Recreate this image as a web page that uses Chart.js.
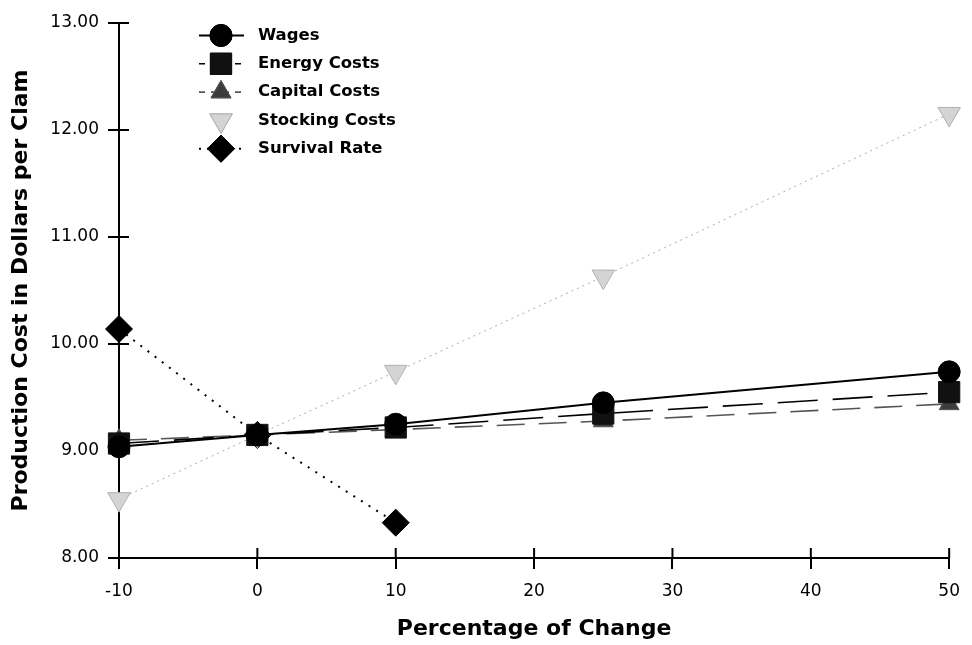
<!DOCTYPE html>
<html><head><meta charset="utf-8">
<script src="https://cdn.jsdelivr.net/npm/chart.js@4.4.1/dist/chart.umd.min.js"></script>
<style>html,body{margin:0;padding:0;background:#fff;}#wrap{width:972px;height:645px;}</style>
</head><body><div id="wrap"><canvas id="c" width="972" height="645"></canvas></div>
<script>
// ---- data ----
const pctChange     = [-10, 0, 10, 25, 50];
const survivalPct   = [-10, 0, 10];
const wages         = [9.04, 9.15, 9.25, 9.45, 9.74];
const energyCosts   = [9.07, 9.15, 9.22, 9.35, 9.55];
const capitalCosts  = [9.10, 9.15, 9.20, 9.28, 9.44];
const stockingCosts = [8.55, 9.15, 9.74, 10.63, 12.15];
const survivalRate  = [10.14, 9.15, 8.33];
const seriesNames   = ['Wages', 'Energy Costs', 'Capital Costs', 'Stocking Costs', 'Survival Rate'];
const xTickValues   = [-10, 0, 10, 20, 30, 40, 50];
const yTickValues   = [8, 9, 10, 11, 12, 13];
const xTitle = 'Percentage of Change';
const yTitle = 'Production Cost in Dollars per Clam';

const FONT = "'DejaVu Sans', sans-serif";
const pts = (xs, ys) => xs.map((x, i) => ({x: x, y: ys[i]}));

const styles = [
  {borderColor:'#000', borderWidth:2,   borderDash:[],      pointStyle:'circle',   pointRadius:11,   bg:'#000', pb:'#000', rot:0},
  {borderColor:'#000', borderWidth:1.6, borderDash:[40,15], pointStyle:'rect',     pointRadius:15,   bg:'#111', pb:'#111', rot:0},
  {borderColor:'#555', borderWidth:1.6, borderDash:[28,14], pointStyle:'triangle', pointRadius:11.5, bg:'#3c3c3c', pb:'#555', rot:0},
  {borderColor:'#aaa', borderWidth:1,   borderDash:[2,4],   pointStyle:'triangle', pointRadius:13,   bg:'#d4d4d4', pb:'#b0b0b0', rot:180},
  {borderColor:'#000', borderWidth:2,   borderDash:[2,7],   pointStyle:'rectRot',  pointRadius:13.5, bg:'#000', pb:'#000', rot:0}
];
const seriesData = [
  pts(pctChange, wages), pts(pctChange, energyCosts), pts(pctChange, capitalCosts),
  pts(pctChange, stockingCosts), pts(survivalPct, survivalRate)
];

const datasets = seriesNames.map((name, i) => {
  const s = styles[i];
  return {
    label: name, data: seriesData[i],
    borderColor: s.borderColor, borderWidth: s.borderWidth, borderDash: s.borderDash,
    backgroundColor: s.bg, pointBackgroundColor: s.bg, pointBorderColor: s.pb, pointBorderWidth: 1,
    pointStyle: s.pointStyle, pointRadius: s.pointRadius, pointHoverRadius: s.pointRadius,
    pointRotation: s.rot, tension: 0, fill: false, clip: false, order: i
  };
});

function drawShape(ctx, style, r, rot, x, y) {
  if (Chart.helpers && Chart.helpers.drawPoint) {
    Chart.helpers.drawPoint(ctx, {pointStyle: style, radius: r, rotation: rot, borderWidth: 1}, x, y);
    ctx.fill(); ctx.stroke();
  }
}

const legendPlugin = {
  id: 'inlineLegend',
  afterDraw(chart) {
    const ctx = chart.ctx, ca = chart.chartArea;
    ctx.save();
    chart.data.datasets.forEach((ds, i) => {
      const s = styles[i];
      const y = ca.top + 12.5 + 28.3 * i;
      const x0 = ca.left + 80, x1 = ca.left + 125, xm = ca.left + 102;
      ctx.setLineDash(s.borderDash.length ? s.borderDash.map(v => Math.min(v, 6)) : []);
      ctx.strokeStyle = s.borderColor; ctx.lineWidth = s.borderWidth;
      if (i !== 3) { ctx.beginPath(); ctx.moveTo(x0, y); ctx.lineTo(x1, y); ctx.stroke(); }
      ctx.setLineDash([]);
      ctx.fillStyle = s.bg; ctx.strokeStyle = s.pb; ctx.lineWidth = 1;
      drawShape(ctx, s.pointStyle, s.pointRadius, s.rot, xm, y);
      ctx.fillStyle = '#000';
      ctx.font = "bold 16.5px " + FONT;
      ctx.textBaseline = 'middle'; ctx.textAlign = 'left';
      ctx.fillText(ds.label, ca.left + 139, y);
    });
    ctx.restore();
  }
};

const innerTicks = {
  id: 'innerTicks',
  afterDraw(chart) {
    const ctx = chart.ctx, ca = chart.chartArea;
    const xs = chart.scales.x, ys = chart.scales.y;
    ctx.save();
    ctx.strokeStyle = '#000'; ctx.lineWidth = 2; ctx.setLineDash([]);
    ys.ticks.forEach(t => {
      const p = ys.getPixelForValue(t.value);
      ctx.beginPath(); ctx.moveTo(ca.left, p); ctx.lineTo(ca.left + 10, p); ctx.stroke();
    });
    xs.ticks.forEach(t => {
      const p = xs.getPixelForValue(t.value);
      ctx.beginPath(); ctx.moveTo(p, ca.bottom); ctx.lineTo(p, ca.bottom - 10); ctx.stroke();
    });
    ctx.restore();
  }
};

new Chart(document.getElementById('c'), {
  type: 'line',
  data: { datasets: datasets },
  options: {
    responsive: false, animation: false, devicePixelRatio: 1,
    layout: { padding: { top: 23, right: 13, left: 0, bottom: 0 } },
    plugins: { legend: { display: false }, tooltip: { enabled: false } },
    scales: {
      x: {
        type: 'linear', min: -10, max: 50,
        afterFit(scale) { scale.height = 87; },
        afterBuildTicks(scale) { scale.ticks = xTickValues.map(v => ({value: v})); },
        grid: { drawOnChartArea: false, drawTicks: true, tickLength: 11, color: '#000', lineWidth: 2 },
        border: { color: '#000', width: 2 },
        ticks: { color: '#000', font: { family: FONT, size: 17 }, padding: 12, maxRotation: 0,
                 callback: v => String(v) },
        title: { display: true, text: xTitle, color: '#000',
                 font: { family: FONT, size: 22, weight: 'bold' }, padding: { top: 0, bottom: 3 } }
      },
      y: {
        type: 'linear', min: 8, max: 13,
        afterFit(scale) { scale.width = 119; },
        afterBuildTicks(scale) { scale.ticks = yTickValues.map(v => ({value: v})); },
        grid: { drawOnChartArea: false, drawTicks: true, tickLength: 11, color: '#000', lineWidth: 2 },
        border: { color: '#000', width: 2 },
        ticks: { color: '#000', font: { family: FONT, size: 17 }, padding: 9,
                 callback: v => Number(v).toFixed(2) },
        title: { display: true, text: yTitle, color: '#000',
                 font: { family: FONT, size: 22, weight: 'bold' }, padding: { top: 8, bottom: 0 } }
      }
    }
  },
  plugins: [legendPlugin, innerTicks]
});
</script></body></html>
